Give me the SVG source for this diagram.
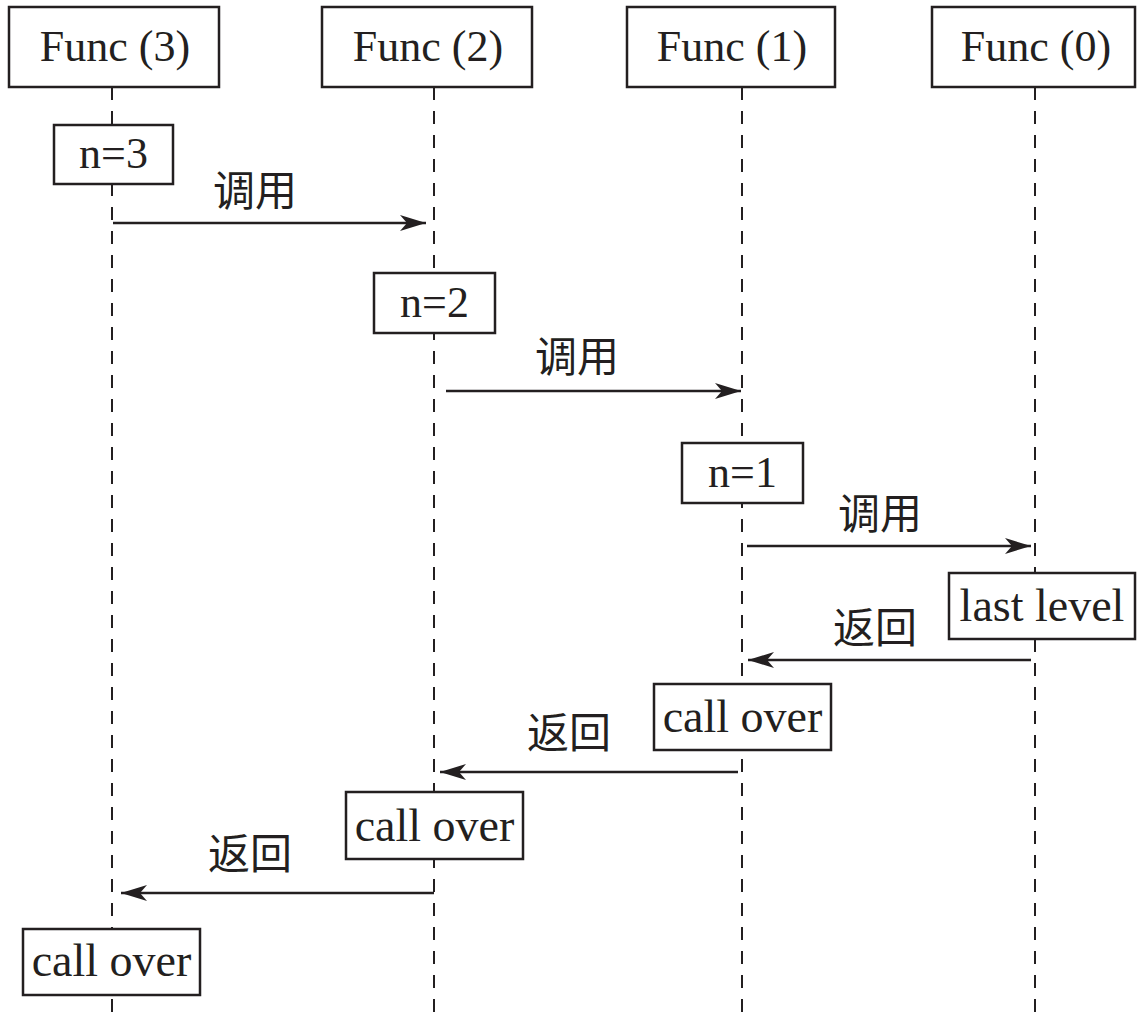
<svg xmlns="http://www.w3.org/2000/svg" width="1137" height="1021" viewBox="0 0 1137 1021">
  <style>
    .box { fill: #ffffff; stroke: #231f20; stroke-width: 2.5; }
    .life { stroke: #231f20; stroke-width: 2; stroke-dasharray: 13 11; fill: none; }
    .msg { stroke: #231f20; stroke-width: 2.5; fill: none; marker-end: url(#arrow); }
    .lt { font-family: "Liberation Serif", "Times New Roman", serif; font-size: 44px; fill: #231f20; text-anchor: middle; }
    .lw { font-size: 46px; }
    .cn { font-family: "Noto Sans CJK SC", sans-serif; font-size: 42px; fill: #231f20; }
  </style>
  <defs>
    <marker id="arrow" markerUnits="userSpaceOnUse" viewBox="0 -10 26 20" refX="26" refY="0" markerWidth="26" markerHeight="20" orient="auto">
      <path d="M0,-8 L26,0 L0,8 L7,0 Z" fill="#231f20"/>
    </marker>
  </defs>
  <rect x="0" y="0" width="1137" height="1021" fill="#ffffff"/>

  <g id="lifelines">
    <line class="life" x1="112" y1="87" x2="112" y2="1021"/>
    <line class="life" x1="434" y1="87" x2="434" y2="1021"/>
    <line class="life" x1="742" y1="87" x2="742" y2="1021"/>
    <line class="life" x1="1035" y1="87" x2="1035" y2="1021"/>
  </g>

  <g id="connectors">
    <line class="msg" x1="113" y1="223" x2="426" y2="223"/>
    <line class="msg" x1="446" y1="391" x2="741" y2="391"/>
    <line class="msg" x1="747" y1="546" x2="1031" y2="546"/>
    <line class="msg" x1="1031" y1="660" x2="748" y2="660"/>
    <line class="msg" x1="738" y1="772" x2="440" y2="772"/>
    <line class="msg" x1="434" y1="893" x2="121" y2="893"/>
    <text class="cn" x="213" y="206">调用</text>
    <text class="cn" x="535" y="372">调用</text>
    <text class="cn" x="838" y="529">调用</text>
    <text class="cn" x="833" y="643">返回</text>
    <text class="cn" x="527" y="748">返回</text>
    <text class="cn" x="208" y="869">返回</text>
  </g>

  <g id="func3">
    <rect class="box" x="9" y="7" width="210" height="80"/>
    <text class="lt" x="115" y="61">Func (3)</text>
  </g>
  <g id="func2">
    <rect class="box" x="322" y="7" width="210" height="80"/>
    <text class="lt" x="428" y="61">Func (2)</text>
  </g>
  <g id="func1">
    <rect class="box" x="627" y="7" width="208" height="80"/>
    <text class="lt" x="732" y="61">Func (1)</text>
  </g>
  <g id="func0">
    <rect class="box" x="932" y="7" width="203" height="80"/>
    <text class="lt" x="1036" y="61">Func (0)</text>
  </g>

  <g id="n3">
    <rect class="box" x="54" y="125" width="119" height="59"/>
    <text class="lt" x="113.5" y="168">n=3</text>
  </g>
  <g id="n2">
    <rect class="box" x="374" y="273" width="121" height="60"/>
    <text class="lt" x="434.5" y="317">n=2</text>
  </g>
  <g id="n1">
    <rect class="box" x="682" y="443" width="121" height="60"/>
    <text class="lt" x="742.5" y="487">n=1</text>
  </g>
  <g id="lastlevel">
    <rect class="box" x="949" y="573" width="186" height="66"/>
    <text class="lt lw" x="1042" y="621">last level</text>
  </g>
  <g id="callover1">
    <rect class="box" x="654" y="684" width="177" height="66"/>
    <text class="lt lw" x="742.5" y="732">call over</text>
  </g>
  <g id="callover2">
    <rect class="box" x="346" y="792" width="177" height="67"/>
    <text class="lt lw" x="434.5" y="841">call over</text>
  </g>
  <g id="callover3">
    <rect class="box" x="23" y="929" width="177" height="66"/>
    <text class="lt lw" x="111.5" y="976">call over</text>
  </g>
</svg>
